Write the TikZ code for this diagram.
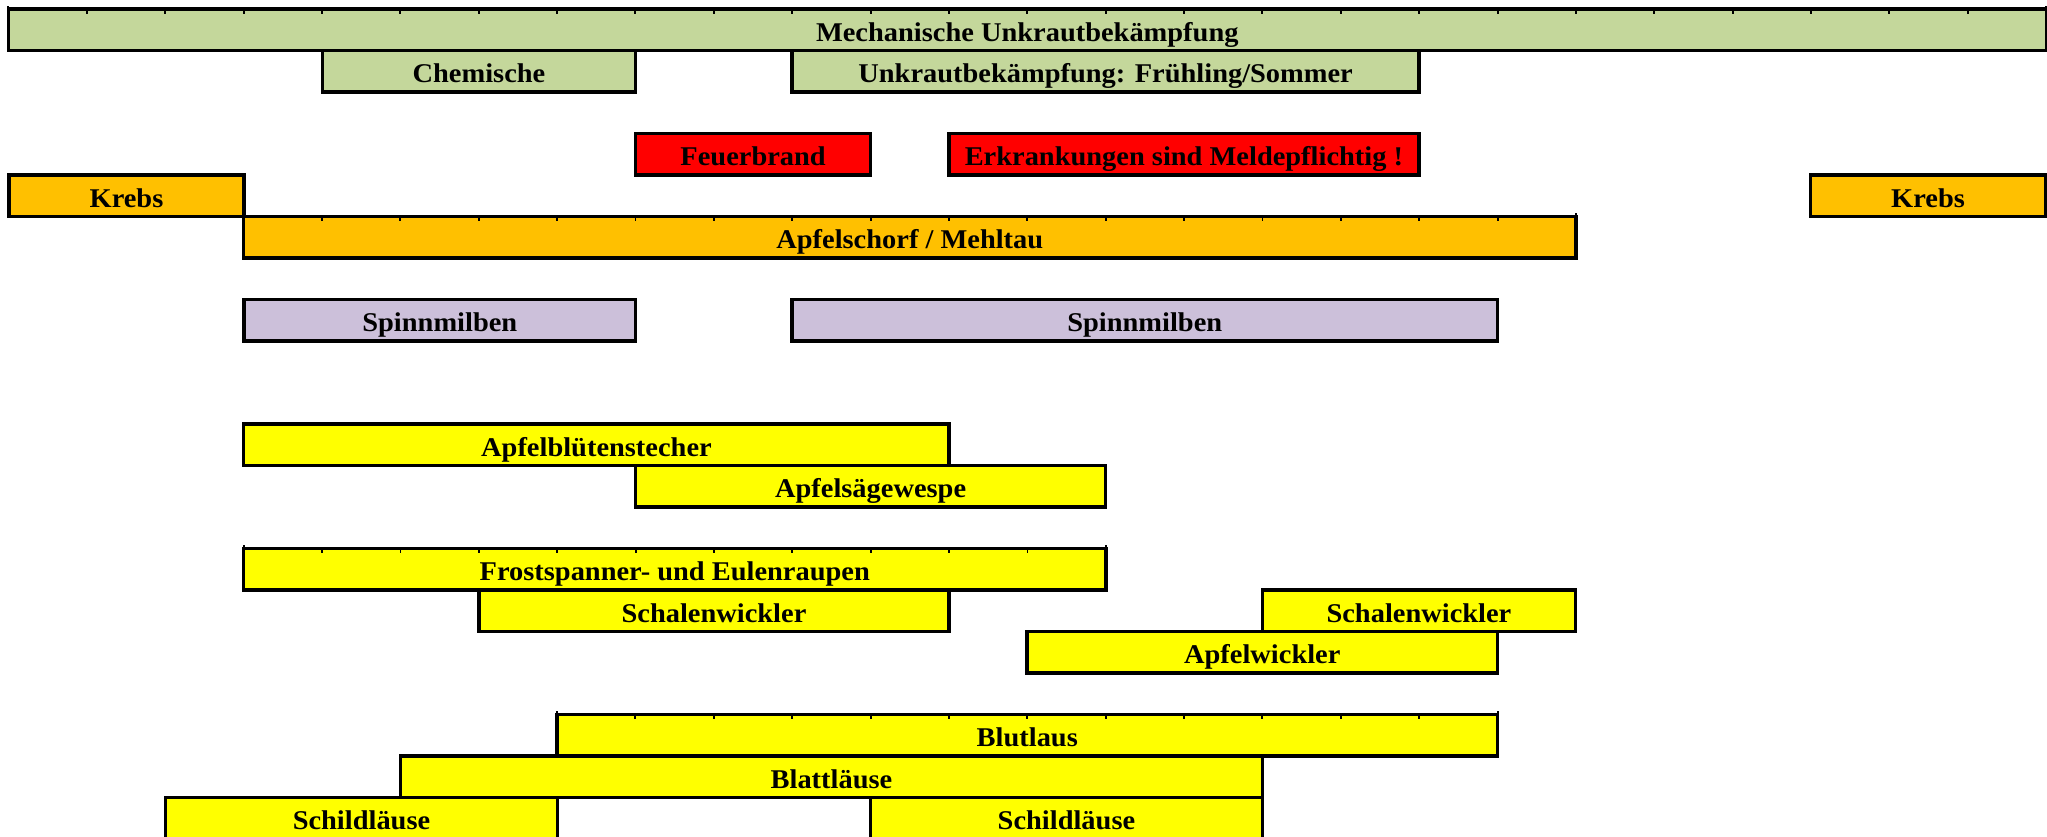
\documentclass[tikz,border=0pt]{standalone}
\usepackage{fontspec}
\setmainfont{Liberation Serif}[FakeStretch=1.05]
\definecolor{cgreen}{HTML}{C4D79B}
\definecolor{corange}{HTML}{FFC000}
\definecolor{cred}{HTML}{FF0000}
\definecolor{clav}{HTML}{CCC0DA}
\definecolor{cyellow}{HTML}{FFFF00}
\tikzset{
  bar/.style={draw=black, line width=0.95pt, rectangle, outer sep=0pt, inner sep=0pt,
    minimum height=0.415cm, text height=6.5pt, text depth=0pt,
    font=\fontsize{7.7pt}{9pt}\selectfont\bfseries, text=black},
  greenbar/.style={bar, fill=cgreen},
  orangebar/.style={bar, fill=corange},
  redbar/.style={bar, fill=cred},
  lavbar/.style={bar, fill=clav},
  yellowbar/.style={bar, fill=cyellow},
  tick/.style={draw=black, line width=0.55pt}
}
\newcommand\timebar[6]{%
  \node[#5, minimum width={(#3-#2)*0.7833cm}] (#1) at ({9+(#2+#3)*39.165},{29.75+#4*41.5}) {#6};}
\newcommand\barticks[2]{%
  \foreach \k in {1,...,#2} \draw[tick] ([xshift=\k*0.7833cm]#1.north west) -- ++(0,5);
  \draw[tick] (#1.north west) -- ++(0,-3);
  \draw[tick] (#1.north east) -- ++(0,-3);}
\begin{document}
\begin{tikzpicture}[x=0.01cm, y=-0.01cm]
\useasboundingbox (0,0) rectangle (2047,837);
\clip (0,0) rectangle (2047,837);
\timebar{mech}{0}{26}{0}{greenbar}{Mechanische Unkrautbekämpfung}
\timebar{chem}{4}{8}{1}{greenbar}{Chemische}
\timebar{unkr}{10}{18}{1}{greenbar}{Unkrautbekämpfung: Frühling/Sommer}
\timebar{feuer}{8}{11}{3}{redbar}{Feuerbrand}
\timebar{erkr}{12}{18}{3}{redbar}{Erkrankungen sind Meldepflichtig !}
\timebar{krebsa}{0}{3}{4}{orangebar}{Krebs}
\timebar{krebsb}{23}{26}{4}{orangebar}{Krebs}
\timebar{schorf}{3}{20}{5}{orangebar}{Apfelschorf / Mehltau}
\timebar{spinna}{3}{8}{7}{lavbar}{Spinnmilben}
\timebar{spinnb}{10}{19}{7}{lavbar}{Spinnmilben}
\timebar{bluet}{3}{12}{10}{yellowbar}{Apfelblütenstecher}
\timebar{saege}{8}{14}{11}{yellowbar}{Apfelsägewespe}
\timebar{frost}{3}{14}{13}{yellowbar}{Frostspanner- und Eulenraupen}
\timebar{schala}{6}{12}{14}{yellowbar}{Schalenwickler}
\timebar{schalb}{16}{20}{14}{yellowbar}{Schalenwickler}
\timebar{apfelw}{13}{19}{15}{yellowbar}{Apfelwickler}
\timebar{blut}{7}{19}{17}{yellowbar}{Blutlaus}
\timebar{blatt}{5}{16}{18}{yellowbar}{Blattläuse}
\timebar{schilda}{2}{7}{19}{yellowbar}{Schildläuse}
\timebar{schildb}{11}{16}{19}{yellowbar}{Schildläuse}
\barticks{mech}{25}
\barticks{schorf}{16}
\barticks{frost}{10}
\barticks{blut}{11}
\end{tikzpicture}
\end{document}
